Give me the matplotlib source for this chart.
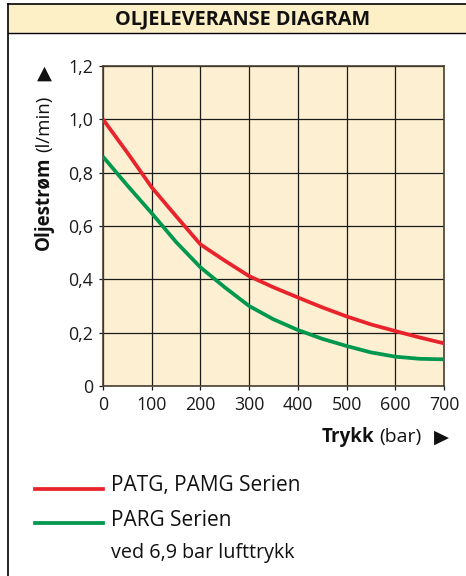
import matplotlib.pyplot as plt
from matplotlib.lines import Line2D
from matplotlib.patches import Rectangle

plt.rcParams['font.family'] = ['Open Sans', 'DejaVu Sans']

# Data
trykk = [0, 50, 100, 150, 200, 250, 300, 350, 400, 450, 500, 550, 600, 650, 700]
patg_pamg = [1.0, 0.875, 0.745, 0.637, 0.531, 0.47, 0.412, 0.37, 0.332, 0.295,
             0.261, 0.231, 0.206, 0.182, 0.16]
parg = [0.86, 0.752, 0.648, 0.54, 0.445, 0.37, 0.30, 0.25, 0.21, 0.177,
        0.15, 0.126, 0.11, 0.102, 0.10]
x_ticks = [0, 100, 200, 300, 400, 500, 600, 700]
y_ticks = [0, 0.2, 0.4, 0.6, 0.8, 1.0, 1.2]
y_labels = ['0', '0,2', '0,4', '0,6', '0,8', '1,0', '1,2']

red = '#e8232b'
green = '#00984e'

W, H = 466, 576
fig = plt.figure(figsize=(W / 100, H / 100), dpi=100)

def fx(px):
    return px / W

def fy(py):
    return 1 - py / H

# frame and title band
fig.patches.append(Rectangle((fx(8), fy(33)), 1 - fx(8), fy(4) - fy(33),
                             transform=fig.transFigure, facecolor='#fdf0c6',
                             edgecolor='none', zorder=0))
fig.add_artist(Line2D([fx(8), fx(8)], [fy(4), 0], transform=fig.transFigure, color='black', lw=1.2))
fig.add_artist(Line2D([fx(8), 1], [fy(4), fy(4)], transform=fig.transFigure, color='black', lw=1.2))
fig.add_artist(Line2D([fx(8), 1], [fy(33), fy(33)], transform=fig.transFigure, color='black', lw=1.0))
fig.text(fx(243), fy(19), 'OLJELEVERANSE DIAGRAM', ha='center', va='center',
         fontsize=14.3, fontweight='bold', color='#111')

ax = fig.add_axes([fx(103), fy(386), fx(444) - fx(103), fy(66) - fy(386)])
ax.set_facecolor('#fdefd2')
ax.plot(trykk, patg_pamg, color=red, lw=2.7, solid_capstyle='butt', zorder=3)
ax.plot(trykk, parg, color=green, lw=2.7, solid_capstyle='butt', zorder=3)
ax.set_xlim(0, 700)
ax.set_ylim(0, 1.2)
ax.set_xticks(x_ticks)
ax.set_yticks(y_ticks)
ax.set_yticklabels(y_labels)
ax.grid(True, color='#1a1a1a', lw=0.9)
ax.set_axisbelow(True)
ax.tick_params(length=3, width=0.9, labelsize=12.8, pad=4, colors='#1a1a1a')
for s in ax.spines.values():
    s.set_color('#4a4030')
    s.set_linewidth(1.2)

# axis labels
fig.canvas.draw()
r = fig.canvas.get_renderer()

t1 = fig.text(fx(44), fy(250), 'Oljestrøm', rotation=90, ha='center', va='bottom',
              fontsize=13.5, fontweight='bold', color='#111')
bb = t1.get_window_extent(r)
t2 = fig.text(fx(44), (bb.y1 + 4) / fig.bbox.height, '(l/min)', rotation=90,
              ha='center', va='bottom', fontsize=13.5, color='#111')
fig.text(fx(44), fy(73), '▲', ha='center', va='center',
         fontsize=14, color='#111', family='DejaVu Sans')

t3 = fig.text(fx(322), fy(437), 'Trykk', ha='left', va='center',
              fontsize=13.5, fontweight='bold', color='#111')
bb3 = t3.get_window_extent(r)
t4 = fig.text((bb3.x1 + 5) / fig.bbox.width, fy(437), '(bar)', ha='left', va='center',
              fontsize=14, color='#111')
fig.text(fx(441), fy(437), '▶', ha='center', va='center',
         fontsize=14, color='#111', family='DejaVu Sans')

# legend
fig.add_artist(Line2D([fx(35), fx(103)], [fy(489), fy(489)], transform=fig.transFigure, color=red, lw=2.7))
fig.add_artist(Line2D([fx(35), fx(103)], [fy(523), fy(523)], transform=fig.transFigure, color=green, lw=2.7))
fig.text(fx(111), fy(486), 'PATG, PAMG Serien', ha='left', va='center', fontsize=15, color='#111')
fig.text(fx(111), fy(520), 'PARG Serien', ha='left', va='center', fontsize=15, color='#111')
fig.text(fx(111), fy(553), 'ved 6,9 bar lufttrykk', ha='left', va='center', fontsize=14.2, color='#111')

fig.savefig('out.png', dpi=100)
